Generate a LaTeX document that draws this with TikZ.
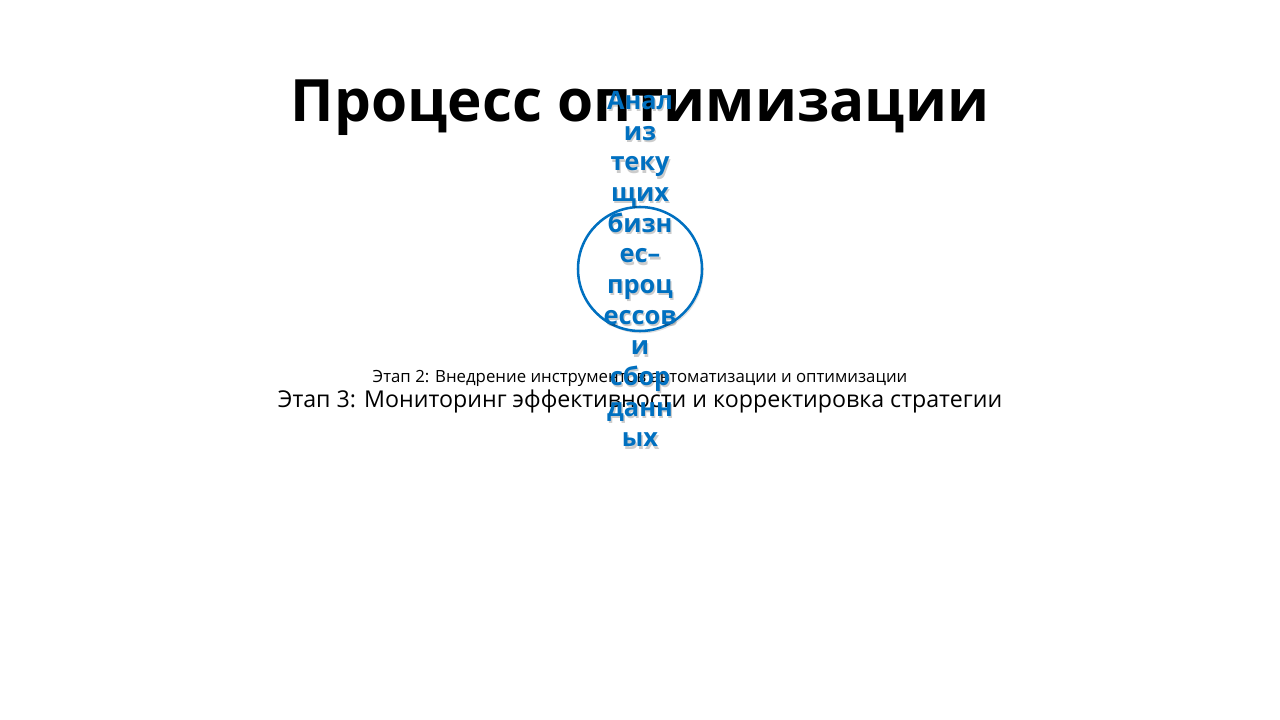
\documentclass[tikz,border=0pt]{standalone}
\usepackage{fontspec}
\setmainfont{Open Sans}
\usetikzlibrary{shadows}
\definecolor{stageblue}{HTML}{0070C0}
\begin{document}
\begin{tikzpicture}[x=0.75pt,y=-0.75pt,
    stagecircle/.style={circle, draw=stageblue, line width=1.9pt, minimum size=93pt, inner sep=0pt,
      drop shadow={opacity=0.25, shadow xshift=1.2pt, shadow yshift=-1.8pt}, fill=white},
    stagetext/.style={align=center, font=\bfseries\fontsize{19}{23}\selectfont, inner sep=0pt}]
    \useasboundingbox (0,0) rectangle (1280,720);
    \node[font=\bfseries\fontsize{43.8}{52}\selectfont, anchor=base] (title) at (640,122) {Процесс оптимизации};
    \node[stagecircle] (stage1) at (640,269) {};
    \node[anchor=base, font=\fontsize{12.6}{15}\selectfont] (stage2) at (640,382) {Этап 2: Внедрение инструментов автоматизации и оптимизации};
    \node[anchor=base, font=\fontsize{17.4}{21}\selectfont] (stage3) at (640,407) {Этап 3: Мониторинг эффективности и корректировка стратегии};
    % text of stage 1 with its shadow
    \node[stagetext, text=black, opacity=0.2] (shadow1) at ([xshift=1pt,yshift=-1.8pt]stage1.center) {Анал\\из\\теку\\щих\\бизн\\ес–\\проц\\ессов\\и\\сбор\\данн\\ых};
    \node[stagetext, text=stageblue] (label1) at (stage1.center) {Анал\\из\\теку\\щих\\бизн\\ес–\\проц\\ессов\\и\\сбор\\данн\\ых};
\end{tikzpicture}
\end{document}
